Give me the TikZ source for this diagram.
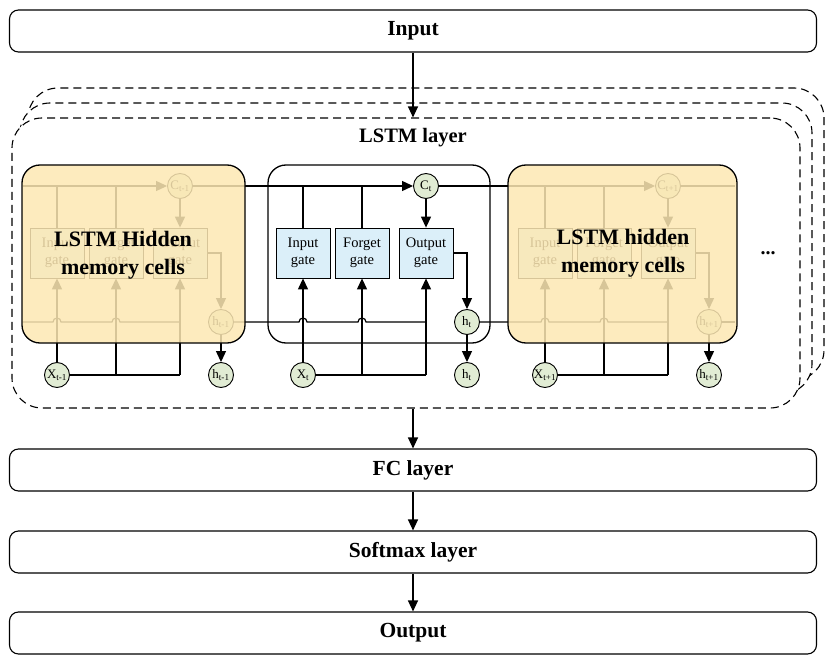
\documentclass[tikz,border=0pt]{standalone}
\usepackage{fontspec}
\setmainfont{Liberation Serif}
\usetikzlibrary{arrows.meta}
\definecolor{gateblue}{RGB}{219,239,249}
\definecolor{stategreen}{RGB}{225,236,212}
\definecolor{cellyellow}{RGB}{253,232,179}
\begin{document}
\begin{tikzpicture}[x=1pt,y=-1pt,line width=1.2pt,
    arr/.style={-{Triangle[length=11pt,width=10pt]}},
    layerbox/.style={draw,rounded corners=9pt,line width=1.1pt,fill=white,minimum width=807pt,minimum height=42pt,font=\fontsize{21.5}{25}\selectfont\bfseries},
    dashbox/.style={draw,dash pattern=on 8pt off 5pt,line width=1.1pt,rounded corners=30pt,fill=white},
    gatebox/.style={draw,line width=0.8pt,fill=gateblue,minimum width=54pt,minimum height=50pt,inner sep=1pt,align=center,font=\fontsize{14.5}{17}\selectfont},
    statenode/.style={draw,line width=0.9pt,circle,fill=stategreen,minimum size=25pt,inner sep=0pt,font=\fontsize{13}{13}\selectfont},
    cellbox/.style={draw,line width=1.3pt,rounded corners=18pt},
    celltext/.style={align=center,font=\fontsize{22}{28}\selectfont\bfseries}]
  \useasboundingbox (0,0) rectangle (825,655);
  \node[layerbox] (input) at (413,31) {Input};
  \draw[dashbox] (28,88) rectangle (824,380);
  \draw[dashbox] (20,103) rectangle (812,394);
  \node[dashbox,minimum width=788pt,minimum height=290pt] (lstm) at (406,263) {};
  \node[font=\fontsize{20.5}{24}\selectfont\bfseries] (lstmname) at (413,138) {LSTM layer};
  \draw[cellbox,fill=white] (268,165) rectangle (490,343);
  \node[inner sep=0pt,outer sep=0pt] (cP) at (22,186) {};
  \node[inner sep=0pt,outer sep=0pt] (hP) at (22,322) {};
  \foreach \x/\n/\s/\p in {22/L/{t-1}/P,268/M/t/L,510/R/{t+1}/M} {
      \node[gatebox] (ig\n) at (\x+35,253) {Input\\gate};
      \node[gatebox] (fg\n) at (\x+94,253) {Forget\\gate};
      \node[gatebox] (og\n) at (\x+158,253) {Output\\gate};
      \node[statenode] (c\n) at (\x+158,186) {C\textsubscript{\s}};
      \node[statenode] (h\n) at (\x+199,322) {h\textsubscript{\s}};
      \node[statenode] (x\n) at (\x+35,375) {X\textsubscript{\s}};
      \node[statenode] (o\n) at (\x+199,375) {h\textsubscript{\s}};
      \draw[arr] (c\p) -- (c\n);
      \draw (ig\n.north) -- (ig\n.north |- c\n);
      \draw (fg\n.north) -- (fg\n.north |- c\n);
      \draw[arr] (c\n) -- (og\n);
      \draw[arr] (og\n.east) -| (h\n);
      \draw[arr] (h\n) -- (o\n);
      \draw (h\p.east) -- (\x+31,322) arc[start angle=180,end angle=360,radius=4]
          -- (\x+90,322) arc[start angle=180,end angle=360,radius=4]
          -- (og\n.south |- h\p.east);
      \draw[arr] (x\n) -- (ig\n);
      \draw (x\n) -- (og\n.south |- x\n);
      \draw[arr] (fg\n.south |- x\n) -- (fg\n);
      \draw[arr] (og\n.south |- x\n) -- (og\n);
  }
  \coordinate (cQ) at (735,186);
  \coordinate (hQ) at (735,322);
  \draw (cR) -- (cQ);
  \draw (hR) -- (hQ);
  \draw[cellbox,fill=cellyellow,fill opacity=0.85] (22,165) rectangle (245,343);
  \draw[cellbox,fill=cellyellow,fill opacity=0.85] (508,165) rectangle (737,343);
  \node[celltext] (hidL) at (123,255) {LSTM Hidden\\memory cells};
  \node[celltext] (hidR) at (623,253) {LSTM hidden\\memory cells};
  \node[font=\fontsize{20}{24}\selectfont\bfseries] (dots) at (768,253) {...};
  \node[layerbox] (fc) at (413,470) {FC layer};
  \node[layerbox] (softmax) at (413,552) {Softmax layer};
  \node[layerbox] (output) at (413,633) {Output};
  \draw[arr] (input) -- (input |- lstm.north);
  \draw[arr] (lstm.south -| fc) -- (fc);
  \draw[arr] (fc) -- (softmax);
  \draw[arr] (softmax) -- (output);
\end{tikzpicture}
\end{document}
